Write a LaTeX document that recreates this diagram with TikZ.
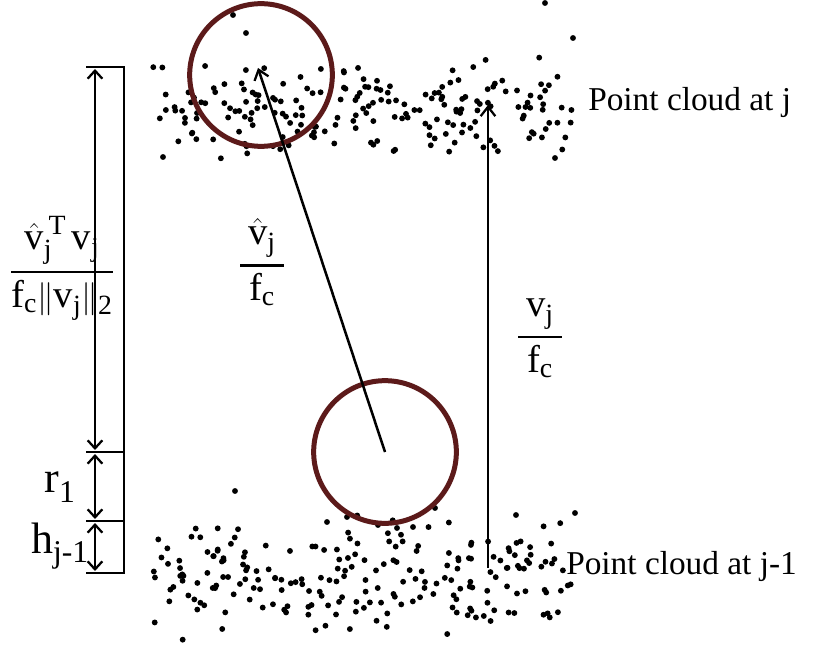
\documentclass[tikz,border=0pt]{standalone}
\usepackage{amsmath}
\usepackage{graphicx}
\usepackage{fontspec}
\setmainfont{Liberation Serif}
\usetikzlibrary{arrows.meta}
\definecolor{maroon}{RGB}{92,26,26}
\newcommand\sbt[1]{\scalebox{0.72}{\text{#1}}}
\newcommand\myfr[2]{\genfrac{}{}{1.7pt}{0}{#1}{#2}}
\begin{document}
\begin{tikzpicture}[x=0.75pt,y=-0.75pt,
  dot/.style={fill=black},
  ring/.style={draw=maroon,line width=3.75pt,circle,minimum size=107pt,inner sep=0pt},
  arr/.style={line width=1.9pt,-{Straight Barb[length=7pt,width=11pt,line width=1.7pt]}},
  dbl/.style={line width=1.9pt,{Straight Barb[length=6pt,width=11pt,line width=1.7pt]}-{Straight Barb[length=6pt,width=11pt,line width=1.7pt]}},
  brk/.style={line width=2.1pt},
  lbl/.style={font=\fontsize{25}{28}\selectfont,anchor=west,inner sep=0pt},
  mlbl/.style={font=\fontsize{29}{32}\selectfont,inner sep=0pt},
  blbl/.style={font=\fontsize{33}{36}\selectfont,inner sep=0pt}]
\useasboundingbox (0,0) rectangle (824,649);
% point clouds
\pgfmathsetseed{4711}
\foreach \i in {1,...,200}{
  \pgfmathsetmacro\px{152+420*rnd}
  \pgfmathsetmacro\py{110+27*(rand+rand)}
  \fill[dot] (\px,\py) circle[radius=2.2pt];
}
\foreach \i in {1,...,215}{
  \pgfmathsetmacro\px{152+422*rnd}
  \pgfmathsetmacro\py{578+32*(rand+rand)}
  \fill[dot] (\px,\py) circle[radius=2.2pt];
}
\foreach \p in {(233,15),(545,3),(573,38),(246,33),(163,157),(555,158),(235,491),(516,515),(575,513),(327,522),(347,517),(378,525),(397,528),(413,527),(435,508)}{
  \fill[dot] \p circle[radius=2.2pt];
}
% circles
\node[ring] (Ctop) at (261,75) {};
\node[ring] (Cbot) at (385,452) {};
% arrows
\coordinate (tipA) at (258,68);
\draw[arr] (Cbot.center) -- (tipA);
\coordinate (vb) at (488,568);
\coordinate (vt) at (488,105);
\draw[arr] (vb) -- (vt);
% bracket
\coordinate (t0) at (86,67);
\coordinate (t1) at (86,452);
\coordinate (t2) at (86,521);
\coordinate (t3) at (86,573);
\coordinate (b0) at (124,67);
\coordinate (b1) at (124,452);
\coordinate (b2) at (124,521);
\coordinate (b3) at (124,573);
\draw[brk] (t0) -- (b0) -- (b3) -- (t3);
\draw[brk] (t1) -- (b1);
\draw[brk] (t2) -- (b2);
\coordinate (a0) at (95,69);
\coordinate (a1t) at (95,450);
\coordinate (a1b) at (95,454);
\coordinate (a2t) at (95,519);
\coordinate (a2b) at (95,523);
\coordinate (a3) at (95,571);
\draw[dbl] (a0) -- (a1t);
\draw[dbl] (a1b) -- (a2t);
\draw[dbl] (a2b) -- (a3);
% labels
\node[mlbl] (Lproj) at (62,268) {$\myfr{\hat{\text{v}}_{\sbt{j}}^{\,\sbt{T}}\,\text{v}_{\sbt{j}}}{\text{f}_{\sbt{c}}\|\text{v}_{\sbt{j}}\|_{\sbt{2}}}$};
\node[blbl] (Lr) at (60,487) {$\text{r}_{\sbt{1}}$};
\node[blbl] (Lh) at (60,546) {$\text{h}_{\sbt{j-1}}$};
\node[mlbl] (Lvh) at (262,262) {$\myfr{\hspace{6pt}\hat{\text{v}}_{\sbt{j}}\hspace{6pt}}{\text{f}_{\sbt{c}}}$};
\node[mlbl] (Lv) at (540,338) {$\myfr{\hspace{6pt}\text{v}_{\sbt{j}}\hspace{6pt}}{\text{f}_{\sbt{c}}}$};
\node[lbl] (Pj) at (588,102) {Point cloud at j};
\node[lbl] (Pj1) at (566,566) {Point cloud at j-1};
\end{tikzpicture}
\end{document}
